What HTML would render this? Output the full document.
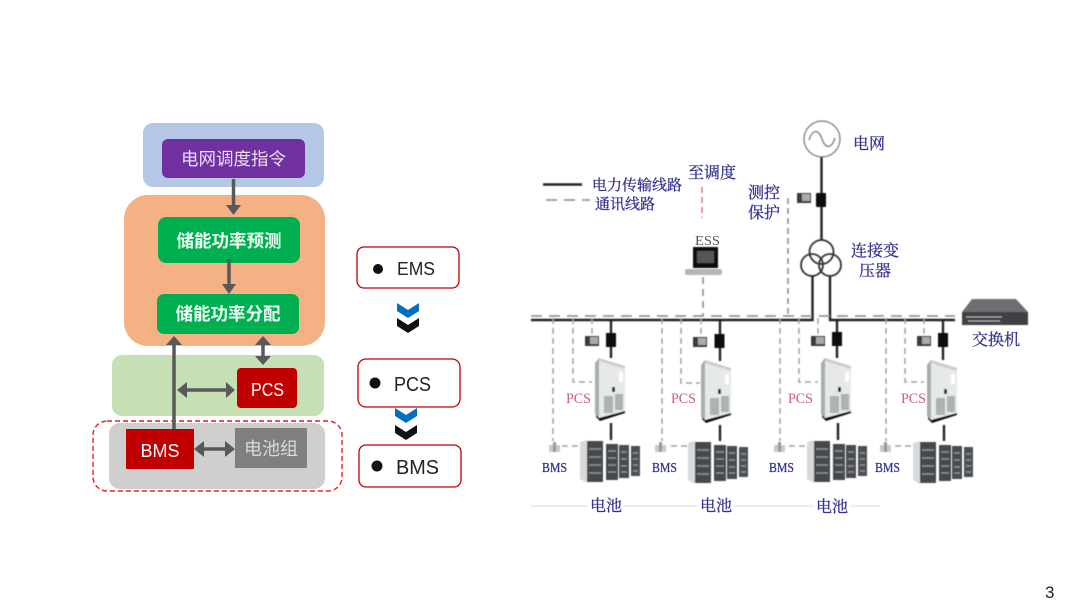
<!DOCTYPE html>
<html><head><meta charset="utf-8">
<style>
html,body{margin:0;padding:0;background:#fff}
svg{display:block}
.cj{font-family:"Liberation Sans","Noto Sans CJK SC",sans-serif}
.b{fill:#34348f;stroke:#34348f;stroke-width:.3;font-family:"Liberation Serif","Noto Serif CJK SC",serif}
</style></head><body>
<svg width="1080" height="608" viewBox="0 0 1080 608" xmlns="http://www.w3.org/2000/svg">
<defs>
<filter id="bl" x="-5%" y="-5%" width="110%" height="110%"><feGaussianBlur stdDeviation="0.55"/></filter>
<filter id="bt" x="-5%" y="-5%" width="110%" height="110%"><feGaussianBlur stdDeviation="0.35"/></filter>
<g id="cab">
<path d="M0 5 L4 0 L30 8 L30 54 L4 62 L0 56 Z" fill="#e6e9e7"/>
<path d="M0 5 L4 0 L4 60 L0 56 Z" fill="#a6afab"/>
<path d="M4 0 L30 8 L30 11 L4 3 Z" fill="#c9cecc"/>
<path d="M1 57 L4 60 L30 53 L30 55 L5 63 L1 59 Z" fill="#111"/>
<rect x="9" y="38" width="9" height="17" fill="#aab4b0"/><rect x="20" y="36" width="8" height="16" fill="#aab4b0"/>
<rect x="17" y="29" width="3" height="5" fill="#333"/>
<rect x="24" y="14" width="4" height="10" fill="#fff"/>
</g>
<g id="bat">
<path d="M0 2 L7 0 L7 43 L0 39 Z" fill="#d7d9da"/>
<rect x="7" y="1" width="16" height="41" fill="#44484c"/>
<rect x="26" y="4" width="12" height="36" fill="#44484c"/>
<rect x="39" y="5" width="10" height="33" fill="#484c50"/>
<rect x="51" y="6" width="9" height="30" fill="#4c5054"/>
<path d="M9 9H21M9 17H21M9 25H21M9 33H21M28 11H36M28 18H36M28 25H36M28 32H36M41 12H47M41 19H47M41 26H47M41 32H47M53 13H58M53 19H58M53 25H58M53 31H58" stroke="#8f9396" stroke-width="1.400"/>
</g>
<g id="meter"><rect x="0" y="1" width="14" height="10" fill="#3a3a3a"/><rect x="5" y="2" width="8" height="7" fill="#aaa"/></g>
<g id="bmsi"><rect x="0" y="3" width="11" height="7" fill="#c9c9c9"/><rect x="4" y="0" width="3" height="10" fill="#999"/></g>
</defs>

<!-- left stack -->
<rect x="143" y="123" width="181" height="64" rx="10" fill="#b4c7e7"/>
<rect x="162" y="139" width="143" height="39" rx="6" fill="#7030a0"/>
<rect x="124" y="195" width="201" height="151" rx="24" fill="#f4b183"/>
<rect x="158" y="217" width="142" height="46" rx="8" fill="#00b050"/>
<rect x="157" y="294" width="142" height="40" rx="7" fill="#00b050"/>
<rect x="112" y="355" width="212" height="61" rx="10" fill="#c5e0b4"/>
<rect x="237" y="368" width="60" height="40" rx="4" fill="#c00000"/>
<rect x="109" y="423" width="216" height="66" rx="11" fill="#d0cece"/>
<rect x="126" y="429" width="68" height="40" fill="#c00000"/>
<rect x="235" y="428" width="72" height="40" fill="#7f7f7f"/>
<rect x="93" y="421" width="249" height="70" rx="14" fill="none" stroke="#e02424" stroke-width="1.400" stroke-dasharray="5 3"/>

<g stroke="#595959" stroke-width="3.500" fill="none">
<path d="M233.500 179V206"/>
<path d="M229 259V285"/>
<path d="M174 429V344"/>
<path d="M263 344V358"/>
<path d="M184 390H229"/>
<path d="M201 449H228"/>
</g>
<g fill="#595959">
<path d="M226 205H241L233.500 215Z"/>
<path d="M222 284H236L229 294Z"/>
<path d="M166 345H182L174 336Z"/>
<path d="M255 345H271L263 336Z"/>
<path d="M255 356H271L263 365Z"/>
<path d="M187 382V398L177 390Z"/>
<path d="M226 382V398L235 390Z"/>
<path d="M204 441V457L194 449Z"/>
<path d="M225 441V457L235 449Z"/>
</g>

<g class="cj" text-anchor="middle">
<text x="233.500" y="165" font-size="17.500" fill="#e9def2">电网调度指令</text>
<text x="229" y="247" font-size="17.500" font-weight="700" fill="#f0fff5">储能功率预测</text>
<text x="228" y="320" font-size="17.500" font-weight="700" fill="#f0fff5">储能功率分配</text>
<text x="267.500" y="396" font-size="18" fill="#fff" textLength="33" lengthAdjust="spacingAndGlyphs">PCS</text>
<text x="160" y="457" font-size="18" fill="#fff">BMS</text>
<text x="271" y="455" font-size="18" fill="#d9d9d9">电池组</text>
</g>

<!-- right pills -->
<g fill="#fff" stroke="#c00000" stroke-width="1.300">
<rect x="357" y="247" width="102" height="41" rx="7"/>
</g>
<g fill="#0070c0">
<path d="M397 303L408 310L419 303V311L408 318L397 311Z"/>
<path d="M395 408L406 415L417 408V416L406 423L395 416Z"/>
</g>
<g fill="#fff" stroke="#c00000" stroke-width="1.300">
<rect x="358" y="359" width="102" height="48" rx="8"/>
<rect x="359" y="445" width="102" height="42" rx="7"/>
</g>
<g fill="#111">
<path d="M397 318L408 325L419 318V326L408 333L397 326Z"/>
<path d="M395 425L406 432L417 425V433L406 440L395 433Z"/>
<circle cx="378" cy="269" r="5"/><circle cx="375" cy="383" r="5.500"/><circle cx="377" cy="466" r="5.500"/>
</g>
<g class="cj" fill="#222">
<text x="397" y="275" font-size="18" textLength="38" lengthAdjust="spacingAndGlyphs">EMS</text>
<text x="394" y="391" font-size="20" textLength="37" lengthAdjust="spacingAndGlyphs">PCS</text>
<text x="396" y="474" font-size="20" textLength="43" lengthAdjust="spacingAndGlyphs">BMS</text>
</g>

<!-- right diagram -->
<g filter="url(#bl)">
<g fill="none" stroke="#333" stroke-width="1.500">
<circle cx="822" cy="139" r="18" stroke="#777" stroke-width="1.200"/>
<path d="M809 140C813 128 819 130 822 139C825 148 831 150 835 138" stroke="#777" stroke-width="1.200"/>
<circle cx="821.500" cy="252" r="12" stroke-width="1.800"/>
<circle cx="812" cy="265" r="11" stroke-width="1.800"/>
<circle cx="830" cy="265" r="11" stroke-width="1.800"/>
</g>
<g stroke="#222" stroke-width="2.400" fill="none">
<path d="M821.500 157V240"/>
<path d="M812.500 276V320H531"/>
<path d="M830 276V320H955"/>
<path d="M543 184.500H582"/>
<path d="M611 320V358M611 423V440"/>
<path d="M720 320V361M720 425V441"/>
<path d="M837 320V358M838 423V440"/>
<path d="M943 320V360M944 425V441"/>
</g>
<g fill="none" stroke="#7d8b8b" stroke-width="1.500" stroke-dasharray="11 7">
<path d="M531 316H955"/>
<path d="M546 200H590"/>
<path d="M703 277V316" stroke-dasharray="7 5"/>
<path d="M788 198V316" stroke-dasharray="6 4"/>
</g>
<path d="M702 187V218" stroke="#d06070" stroke-width="1.300" stroke-dasharray="6 4" fill="none"/>
<g fill="none" stroke="#98a3a3" stroke-width="1.500" stroke-dasharray="6 4">
<path d="M553 318V441M573 318V382H592M592 318V335M562 446H578"/>
<path d="M662 318V441M681 318V383H700M701 318V335M671 446H687"/>
<path d="M780 318V441M799 318V382H818M818 318V335M789 446H805"/>
<path d="M886 318V441M905 318V382H924M924 318V335M895 446H911"/>
</g>
<path d="M531 506H588M624 506H698M734 506H814M850 506H880" stroke="#d5d8d8" stroke-width="1"/>
<g fill="#0c0c0c">
<rect x="816" y="193" width="10" height="14" rx="1"/>
<rect x="606" y="333" width="10" height="14"/>
<rect x="714.500" y="334" width="10" height="14"/>
<rect x="832" y="332" width="10" height="14"/>
<rect x="938" y="333" width="10" height="14"/>
</g>
<use href="#meter" x="797" y="192"/>
<use href="#meter" x="585" y="335"/>
<use href="#meter" x="693" y="336"/>
<use href="#meter" x="811" y="335"/>
<use href="#meter" x="917" y="335"/>
<use href="#cab" x="595" y="358"/>
<use href="#cab" x="701" y="360"/>
<use href="#cab" x="821" y="358"/>
<use href="#cab" x="927" y="360"/>
<use href="#bat" x="580" y="440"/>
<use href="#bat" x="688" y="441"/>
<use href="#bat" x="807" y="440"/>
<use href="#bat" x="913" y="441"/>
<use href="#bmsi" x="549" y="442"/>
<use href="#bmsi" x="655" y="442"/>
<use href="#bmsi" x="774" y="442"/>
<use href="#bmsi" x="880" y="442"/>
<!-- ESS -->
<rect x="693" y="247" width="25" height="21" fill="#111"/>
<rect x="697" y="251" width="17" height="12" fill="#555"/>
<rect x="685" y="269" width="37" height="6" rx="2" fill="#b5b5b5"/>
<!-- switch -->
<path d="M972 299H1016L1028 312V325H962V312Z" fill="#6d6e72"/>
<path d="M962 312H1028V325H962Z" fill="#3f3f42"/>
<path d="M966 317H1002M968 321H1000" stroke="#b8b8b8" stroke-width="1"/>
</g>
<g filter="url(#bt)">
<g class="b">
<text x="592" y="190" font-size="15">电力传输线路</text>
<text x="595" y="209" font-size="15">通讯线路</text>
<text x="688" y="178" font-size="16">至调度</text>
<text x="748" y="198" font-size="16">测控</text>
<text x="748" y="218" font-size="16">保护</text>
<text x="853" y="149" font-size="16">电网</text>
<text x="851" y="256" font-size="16">连接变</text>
<text x="859" y="276" font-size="16">压器</text>
<text x="972" y="345" font-size="16">交换机</text>
<text x="590" y="511" font-size="16">电池</text>
<text x="700" y="511" font-size="16">电池</text>
<text x="816" y="512" font-size="16">电池</text>
<text x="542" y="472" font-size="14" textLength="25" lengthAdjust="spacingAndGlyphs">BMS</text>
<text x="652" y="472" font-size="14" textLength="25" lengthAdjust="spacingAndGlyphs">BMS</text>
<text x="769" y="472" font-size="14" textLength="25" lengthAdjust="spacingAndGlyphs">BMS</text>
<text x="875" y="472" font-size="14" textLength="25" lengthAdjust="spacingAndGlyphs">BMS</text>
</g>
<text x="695" y="245" font-size="14" fill="#555" font-family="Liberation Serif,serif" textLength="25" lengthAdjust="spacingAndGlyphs">ESS</text>
<g fill="#c8607a" font-family="Liberation Serif,serif" font-size="15">
<text x="566" y="403" textLength="25" lengthAdjust="spacingAndGlyphs">PCS</text>
<text x="671" y="403" textLength="25" lengthAdjust="spacingAndGlyphs">PCS</text>
<text x="788" y="403" textLength="25" lengthAdjust="spacingAndGlyphs">PCS</text>
<text x="901" y="403" textLength="25" lengthAdjust="spacingAndGlyphs">PCS</text>
</g>
</g>
<text x="1045" y="598" class="cj" font-size="17" fill="#222">3</text>
</svg>
</body></html>
